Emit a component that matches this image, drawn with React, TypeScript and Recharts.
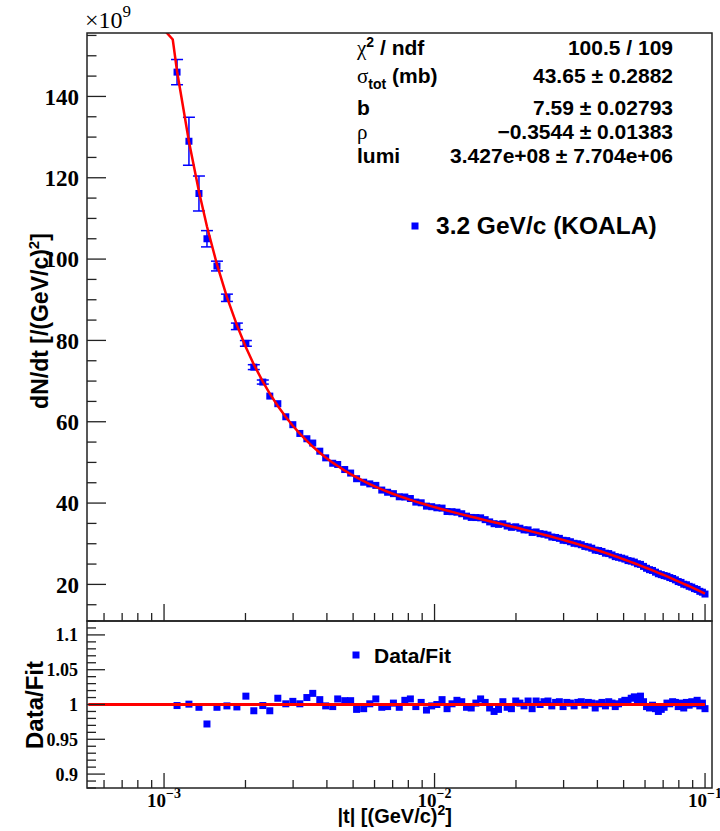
import React from 'react';
import { ComposedChart, Scatter, XAxis, YAxis, ErrorBar } from 'recharts';

// |t| bin centres [(GeV/c)^2]
const tValues = [
  0.001117, 0.001236, 0.001346, 0.001441, 0.001569, 0.001708, 0.001859, 0.002007, 0.002147, 0.002318,
  0.002460, 0.002634, 0.002819, 0.002993, 0.003177, 0.003373, 0.003546, 0.003765, 0.003959, 0.004203,
  0.004385, 0.004655, 0.004896, 0.005150, 0.005470, 0.005762, 0.006066, 0.006381, 0.006706, 0.007046,
  0.007405, 0.007766, 0.008140, 0.008527, 0.008925, 0.009336, 0.009760, 0.010199, 0.010660, 0.011124,
  0.011605, 0.012100, 0.012606, 0.013128, 0.013664, 0.014217, 0.014802, 0.015386, 0.015987, 0.016601,
  0.017239, 0.017889, 0.018555, 0.019236, 0.019961, 0.020680, 0.021417, 0.022171, 0.022947, 0.023740,
  0.024551, 0.025385, 0.026263, 0.027133, 0.028027, 0.028938, 0.029867, 0.030820, 0.031790, 0.032791,
  0.033834, 0.034875, 0.035937, 0.037020, 0.038122, 0.039259, 0.040414, 0.041588, 0.042828, 0.044044,
  0.045295, 0.046564, 0.047871, 0.049181, 0.050542, 0.051910, 0.053347, 0.054790, 0.056233, 0.057715,
  0.059235, 0.060776, 0.062333, 0.063930, 0.065594, 0.067206, 0.068886, 0.070580, 0.072316, 0.074073,
  0.075872, 0.077692, 0.079580, 0.081488, 0.083410, 0.085350, 0.087336, 0.089341, 0.091384, 0.093481,
  0.095655, 0.097783, 0.099958,
];

// dN/dt data (x10^9)
const dndtValues = [
  145.98, 128.98, 116.13, 105.0, 98.29, 90.48, 83.46, 79.27, 73.43, 69.76,
  66.31, 64.44, 61.22, 59.28, 57.12, 55.82, 54.76, 52.76, 51.12, 49.79,
  49.49, 48.25, 47.38, 45.99, 45.13, 44.72, 44.35, 43.20, 42.66, 42.32,
  41.55, 41.49, 41.12, 40.24, 40.07, 39.25, 39.11, 38.84, 38.76, 37.93,
  37.88, 37.76, 37.38, 36.79, 36.47, 36.44, 36.37, 35.92, 35.37, 34.93,
  34.77, 34.90, 34.36, 34.04, 34.16, 33.81, 33.41, 33.40, 32.78, 32.89,
  32.48, 32.35, 32.12, 31.65, 31.54, 31.32, 30.85, 30.77, 30.49, 30.11,
  29.99, 29.75, 29.34, 29.19, 28.90, 28.43, 28.33, 28.10, 27.68, 27.58,
  27.24, 26.83, 26.66, 26.46, 26.23, 25.86, 25.72, 25.48, 25.08, 24.92,
  24.43, 23.97, 23.62, 23.43, 23.01, 22.62, 22.40, 22.17, 22.00, 21.68,
  21.45, 21.12, 20.70, 20.49, 20.05, 19.91, 19.53, 19.33, 18.97, 18.76,
  18.30, 18.08, 17.63,
];

// visible error bars (first bins only, rest hidden under markers)
const dndtErrors = [3.1, 5.9, 4.3, 2.0, 1.2, 0.9, 0.8, 0.7, 0.6, 0.5];

// fit curve
const fitLeadT = [0.00100, 0.001077];
const fitLeadY = [156.4, 154.0];
const fitValues = [
  146.2, 128.92, 116.60, 108.02, 98.68, 90.66, 83.75, 78.33, 74.10, 69.86,
  66.91, 63.87, 61.16, 59.01, 57.06, 55.27, 53.90, 52.39, 51.22, 49.94,
  49.10, 47.99, 47.12, 46.31, 45.40, 44.68, 44.00, 43.37, 42.79, 42.24,
  41.72, 41.24, 40.79, 40.36, 39.95, 39.57, 39.19, 38.84, 38.49, 38.16,
  37.84, 37.53, 37.23, 36.94, 36.65, 36.37, 36.08, 35.81, 35.55, 35.28,
  35.02, 34.76, 34.50, 34.25, 33.99, 33.74, 33.48, 33.23, 32.98, 32.73,
  32.48, 32.22, 31.96, 31.71, 31.45, 31.20, 30.94, 30.68, 30.43, 30.17,
  29.90, 29.63, 29.37, 29.10, 28.84, 28.57, 28.30, 28.02, 27.74, 27.47,
  27.19, 26.91, 26.63, 26.35, 26.07, 25.78, 25.49, 25.20, 24.91, 24.62,
  24.33, 24.04, 23.74, 23.45, 23.15, 22.85, 22.56, 22.26, 21.96, 21.66,
  21.36, 21.06, 20.76, 20.45, 20.15, 19.85, 19.55, 19.25, 18.95, 18.65,
  18.34, 18.04, 17.74,
];

// Data/Fit
const ratioValues = [
  0.9985, 1.0005, 0.996, 0.972, 0.996, 0.998, 0.9965, 1.012, 0.991, 0.9985,
  0.991, 1.009, 1.001, 1.0045, 1.001, 1.010, 1.016, 1.007, 0.998, 0.997,
  1.008, 1.0055, 1.0055, 0.993, 0.994, 1.001, 1.008, 0.996, 0.997, 1.002,
  0.996, 1.006, 1.008, 0.997, 1.003, 0.992, 0.998, 1.000, 1.007, 0.994,
  1.001, 1.006, 1.004, 0.996, 0.995, 1.002, 1.008, 1.003, 0.995, 0.990,
  0.993, 1.004, 0.996, 0.994, 1.005, 1.002, 0.998, 1.005, 0.994, 1.005,
  1.000, 1.004, 1.005, 0.998, 1.003, 1.004, 0.997, 1.003, 1.002, 0.998,
  1.003, 1.004, 0.999, 1.003, 1.002, 0.995, 1.001, 1.003, 0.998, 1.004,
  1.002, 0.997, 1.001, 1.004, 1.006, 1.003, 1.009, 1.011, 1.007, 1.012,
  1.004, 0.997, 0.995, 0.999, 0.994, 0.990, 0.993, 0.996, 1.002, 1.001,
  1.004, 1.003, 0.997, 1.002, 0.995, 1.003, 0.999, 1.004, 1.001, 1.006,
  0.998, 1.002, 0.994,
];

const ratioLineT = [0.000525, 0.1];
const ratioLineY = [1, 1];

// axes
const xDomain = [0.000519, 0.1061];
const xTicks = [
  0.0006, 0.0007, 0.0008, 0.0009, 0.001, 0.002, 0.003, 0.004, 0.005, 0.006, 0.007, 0.008, 0.009,
  0.01, 0.02, 0.03, 0.04, 0.05, 0.06, 0.07, 0.08, 0.09, 0.1,
];
const xMajor = [0.001, 0.01, 0.1];
const xMajorLabels = ['\u22123', '\u22122', '\u22121'];

const topYDomain = [11.0, 155.6];
const topYTicks = [15, 20, 25, 30, 35, 40, 45, 50, 55, 60, 65, 70, 75, 80, 85, 90, 95, 100, 105, 110, 115, 120, 125, 130, 135, 140, 145, 150, 155];
const topYMajor = [20, 40, 60, 80, 100, 120, 140];

const botYDomain = [0.88, 1.12];
const botYTicks = [0.88, 0.89, 0.9, 0.91, 0.92, 0.93, 0.94, 0.95, 0.96, 0.97, 0.98, 0.99, 1, 1.01, 1.02, 1.03, 1.04, 1.05, 1.06, 1.07, 1.08, 1.09, 1.1, 1.11, 1.12];
const botYMajor = [0.9, 0.95, 1, 1.05, 1.1];

const PLOT_L = 87;
const PLOT_R = 712;
const TOP_T = 33;
const TOP_B = 621;
const BOT_B = 788;

const SANS = "'Liberation Sans', Arial, sans-serif";
const SERIF = "'Liberation Serif', 'Times New Roman', serif";
const BLUE = '#0000ff';
const RED = '#ff0000';
const AX = '#222';

const points = tValues.map((t, i) => ({ t, y: dndtValues[i], err: dndtErrors[i] ?? 0 }));
const fitData = [
  ...fitLeadT.map((t, i) => ({ t, y: fitLeadY[i] })),
  ...tValues.map((t, i) => ({ t, y: fitValues[i] })),
];
const ratioPoints = tValues.map((t, i) => ({ t, y: ratioValues[i] }));
const ratioLine = ratioLineT.map((t, i) => ({ t, y: ratioLineY[i] }));

const square = (p: any) => (
  <rect x={p.cx - 3.5} y={p.cy - 3.5} width={7} height={7} fill={BLUE} />
);
const noDot = () => <g />;

const TopXTick = (p: any) => {
  const major = xMajor.includes(p.payload.value);
  return <line x1={p.x} x2={p.x} y1={TOP_B} y2={TOP_B - (major ? 17 : 8)} stroke={AX} strokeWidth={1.3} />;
};

const BotXTick = (p: any) => {
  const idx = xMajor.indexOf(p.payload.value);
  return (
    <g>
      <line x1={p.x} x2={p.x} y1={BOT_B} y2={BOT_B - (idx >= 0 ? 15 : 8)} stroke={AX} strokeWidth={1.3} />
      {idx >= 0 && (
        <text x={p.x} y={807} textAnchor="middle" fontFamily={SERIF} fontWeight="bold" fontSize={19} fill="#000">
          10<tspan dy={-9} fontSize={14}>{xMajorLabels[idx]}</tspan>
        </text>
      )}
    </g>
  );
};

const TopYTick = (p: any) => {
  const major = topYMajor.includes(p.payload.value);
  return (
    <g>
      <line x1={PLOT_L} x2={PLOT_L + (major ? 19 : 9.5)} y1={p.y} y2={p.y} stroke={AX} strokeWidth={1.3} />
      {major && (
        <text x={79} y={p.y} dy="0.36em" textAnchor="end" fontFamily={SERIF} fontWeight="bold" fontSize={23} fill="#000">
          {p.payload.value}
        </text>
      )}
    </g>
  );
};

const BotYTick = (p: any) => {
  const major = botYMajor.includes(p.payload.value);
  return (
    <g>
      <line x1={PLOT_L} x2={PLOT_L + (major ? 18 : 9)} y1={p.y} y2={p.y} stroke={AX} strokeWidth={1.3} />
      {major && (
        <text x={78} y={p.y} dy="0.36em" textAnchor="end" fontFamily={SERIF} fontWeight="bold" fontSize={18} fill="#000">
          {String(p.payload.value)}
        </text>
      )}
    </g>
  );
};

const statRows = [
  { y: 55, value: '100.5 / 109' },
  { y: 83, value: '43.65 \u00b1 0.2882' },
  { y: 115, value: '7.59 \u00b1 0.02793' },
  { y: 139, value: '\u22120.3544 \u00b1 0.01383' },
  { y: 163, value: '3.427e+08 \u00b1 7.704e+06' },
];

export default function App() {
  return (
    <div style={{ position: 'absolute', left: 0, top: 0, width: 720, height: 831, background: '#fff', overflow: 'hidden' }}>
      <div style={{ position: 'absolute', left: 0, top: 0 }}>
        <ComposedChart width={720} height={831} margin={{ top: TOP_T, right: 720 - PLOT_R, bottom: 831 - TOP_B - 1, left: PLOT_L - 1 }}>
          <XAxis
            dataKey="t"
            type="number"
            scale="log"
            domain={xDomain}
            allowDataOverflow
            ticks={xTicks}
            interval={0}
            height={1}
            axisLine={false}
            tickLine={false}
            tick={(p: any) => <TopXTick {...p} />}
          />
          <YAxis
            dataKey="y"
            type="number"
            domain={topYDomain}
            allowDataOverflow
            ticks={topYTicks}
            interval={0}
            width={1}
            axisLine={false}
            tickLine={false}
            tick={(p: any) => <TopYTick {...p} />}
          />
          <Scatter data={points} dataKey="y" shape={square} isAnimationActive={false}>
            <ErrorBar dataKey="err" direction="y" width={6} stroke={BLUE} strokeWidth={1.5} />
          </Scatter>
          <Scatter
            data={fitData}
            dataKey="y"
            shape={noDot}
            line={{ stroke: RED, strokeWidth: 2.5 }}
            lineType="joint"
            isAnimationActive={false}
          />
        </ComposedChart>
      </div>
      <div style={{ position: 'absolute', left: 0, top: 0 }}>
        <ComposedChart width={720} height={831} margin={{ top: TOP_B, right: 720 - PLOT_R, bottom: 831 - BOT_B - 1, left: PLOT_L - 1 }}>
          <XAxis
            dataKey="t"
            type="number"
            scale="log"
            domain={xDomain}
            allowDataOverflow
            ticks={xTicks}
            interval={0}
            height={1}
            axisLine={false}
            tickLine={false}
            tick={(p: any) => <BotXTick {...p} />}
          />
          <YAxis
            dataKey="y"
            type="number"
            domain={botYDomain}
            allowDataOverflow
            ticks={botYTicks}
            interval={0}
            width={1}
            axisLine={false}
            tickLine={false}
            tick={(p: any) => <BotYTick {...p} />}
          />
          <Scatter data={ratioPoints} dataKey="y" shape={square} isAnimationActive={false} />
          <Scatter
            data={ratioLine}
            dataKey="y"
            shape={noDot}
            line={{ stroke: RED, strokeWidth: 3 }}
            lineType="joint"
            isAnimationActive={false}
          />
        </ComposedChart>
      </div>
      <svg width={720} height={831} style={{ position: 'absolute', left: 0, top: 0, pointerEvents: 'none' }}>
        <rect x={PLOT_L} y={TOP_T} width={PLOT_R - PLOT_L} height={TOP_B - TOP_T} fill="none" stroke={AX} strokeWidth={1.5} />
        <rect x={PLOT_L} y={TOP_B} width={PLOT_R - PLOT_L} height={BOT_B - TOP_B} fill="none" stroke={AX} strokeWidth={1.5} />

        <text x={85} y={28} fontFamily={SERIF} fontSize={24} fill="#000">
          {'\u00d710'}<tspan dy={-11} fontSize={17}>9</tspan>
        </text>

        <text transform="translate(48,321) rotate(-90)" textAnchor="middle" fontFamily={SANS} fontWeight="bold" fontSize={23} fill="#000">
          dN/dt [/(GeV/c)<tspan dy={-9} fontSize={15}>2</tspan><tspan dy={9}>]</tspan>
        </text>
        <text transform="translate(43,705) rotate(-90)" textAnchor="middle" fontFamily={SANS} fontWeight="bold" fontSize={24} fill="#000">
          Data/Fit
        </text>
        <text x={452} y={823} textAnchor="end" fontFamily={SANS} fontWeight="bold" fontSize={20} fill="#000">
          |t| [(GeV/c)<tspan dy={-8} fontSize={14}>2</tspan><tspan dy={8}>]</tspan>
        </text>

        <g fontFamily={SANS} fontWeight="bold" fontSize={21} fill="#000">
          <text x={357} y={statRows[0].y}>
            <tspan fontFamily={SERIF} fontWeight="normal">{'\u03c7'}</tspan>
            <tspan dy={-8} fontSize={14}>2</tspan>
            <tspan dy={8}> / ndf</tspan>
          </text>
          <text x={357} y={statRows[1].y}>
            <tspan fontFamily={SERIF} fontWeight="normal">{'\u03c3'}</tspan>
            <tspan dy={6} fontSize={14}>tot</tspan>
            <tspan dy={-6}> (mb)</tspan>
          </text>
          <text x={357} y={statRows[2].y}>b</text>
          <text x={357} y={statRows[3].y}>
            <tspan fontFamily={SERIF} fontWeight="normal">{'\u03c1'}</tspan>
          </text>
          <text x={357} y={statRows[4].y}>lumi</text>
          {statRows.map((r) => (
            <text key={r.y} x={673} y={r.y} textAnchor="end">{r.value}</text>
          ))}
        </g>

        <rect x={411.5} y={222.5} width={7} height={7} fill={BLUE} />
        <text x={436} y={234} fontFamily={SANS} fontWeight="bold" fontSize={24.5} fill="#000">3.2 GeV/c (KOALA)</text>

        <rect x={352.5} y={651.5} width={7} height={7} fill={BLUE} />
        <text x={374} y={663} fontFamily={SANS} fontWeight="bold" fontSize={21} fill="#000">Data/Fit</text>
      </svg>
    </div>
  );
}
